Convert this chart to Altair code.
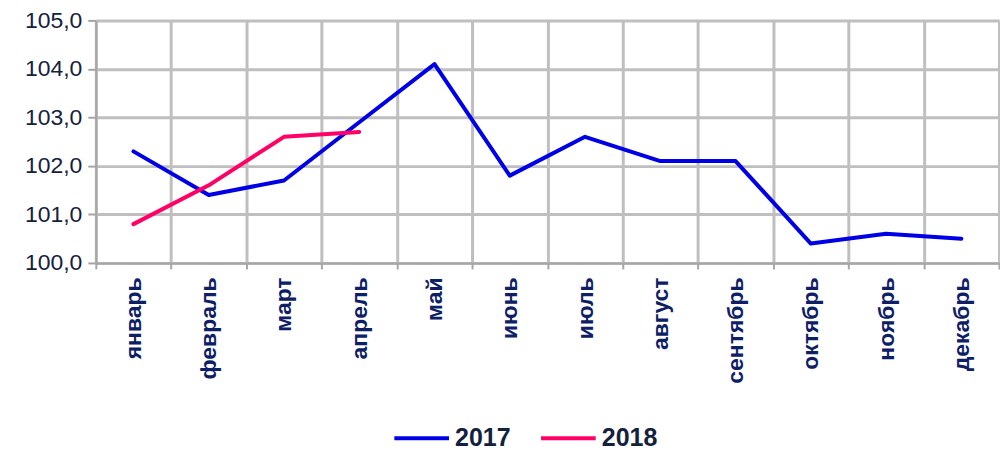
import altair as alt
import pandas as pd

months = ["январь", "февраль", "март", "апрель", "май", "июнь", "июль",
          "август", "сентябрь", "октябрь", "ноябрь", "декабрь"]
v2017 = [102.3, 101.4, 101.7, 102.9, 104.1, 101.8, 102.6, 102.1, 102.1, 100.4, 100.6, 100.5]
v2018 = [100.8, 101.6, 102.6, 102.7]
years = ["2017", "2018"]
colors = ["#0000e6", "#ff0066"]

rows = []
for m, v in zip(months, v2017):
    rows.append({"month": m, "value": v, "year": "2017"})
for m, v in zip(months, v2018):
    rows.append({"month": m, "value": v, "year": "2018"})
df = pd.DataFrame(rows)

FONT = "Liberation Sans"

chart = alt.Chart(df).mark_line(strokeWidth=4, strokeCap="round", strokeJoin="round").encode(
    x=alt.X("month:N", sort=months, title=None,
            scale=alt.Scale(paddingInner=0, paddingOuter=0),
            axis=alt.Axis(labelAngle=-90, labelFont=FONT, labelFontSize=23,
                          labelFontWeight="bold", labelColor="#0d2066",
                          labelPadding=8, tickBand="extent", grid=True,
                          gridColor="#bfbfbf", gridWidth=3,
                          domainColor="#a6a6a6", domainWidth=2,
                          tickColor="#a6a6a6", tickWidth=2, tickSize=6)),
    y=alt.Y("value:Q", title=None,
            scale=alt.Scale(domain=[100, 105], nice=False, zero=False),
            axis=alt.Axis(values=[100, 101, 102, 103, 104, 105],
                          labelExpr="replace(format(datum.value, '.1f'), '.', ',')",
                          labelFont=FONT, labelFontSize=23, labelColor="#14213d",
                          labelPadding=6, grid=True, gridColor="#bfbfbf", gridWidth=3,
                          domainColor="#a6a6a6", domainWidth=2,
                          tickColor="#a6a6a6", tickWidth=2, tickSize=8)),
    color=alt.Color("year:N", scale=alt.Scale(domain=years, range=colors),
                    legend=alt.Legend(title=None, orient="none", direction="horizontal",
                                      legendX=297, legendY=389,
                                      symbolType="stroke", symbolSize=3000,
                                      symbolStrokeWidth=4, labelFont=FONT,
                                      labelFontSize=25, labelFontWeight="bold",
                                      labelColor="#14213d", columnPadding=22,
                                      labelOffset=4)),
).properties(
    width=905, height=243,
    padding={"left": 16, "top": 1, "right": 0, "bottom": 0},
).configure_view(stroke=None).configure(background="white")

chart.save("out.html", embed_options={"renderer": "svg", "actions": False})
